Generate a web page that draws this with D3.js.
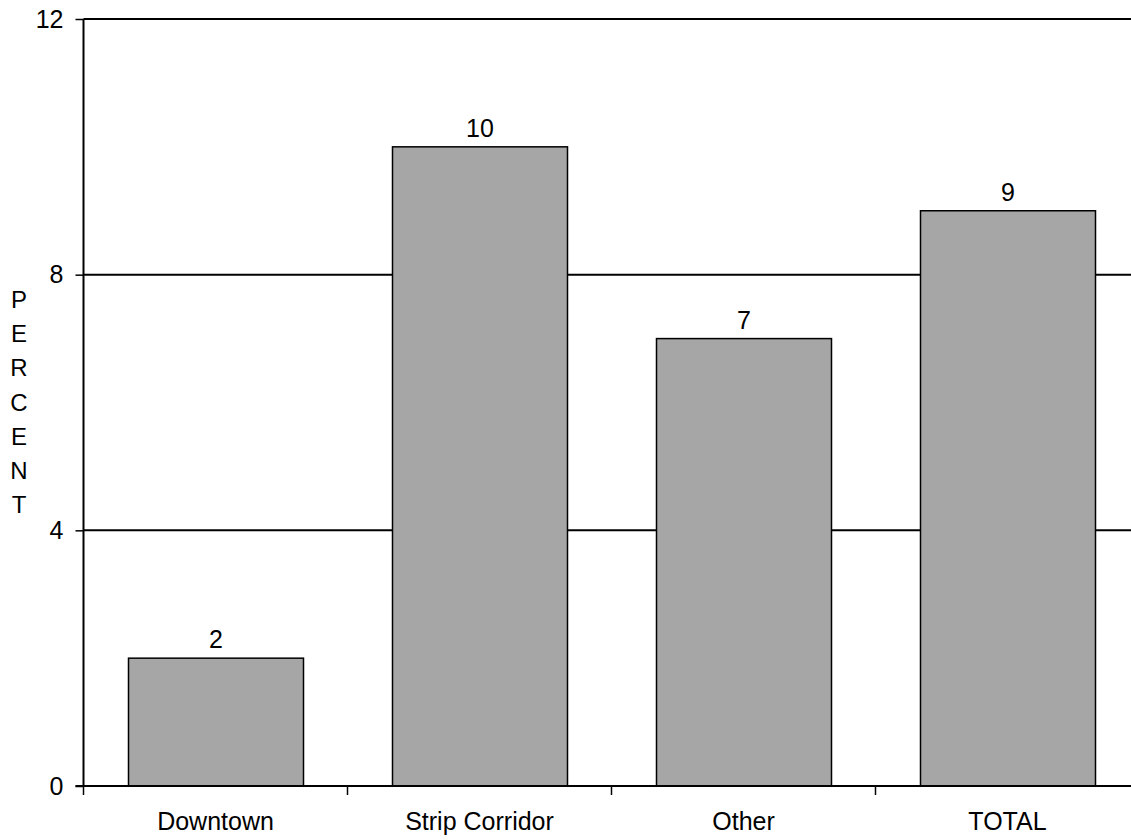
<!DOCTYPE html>
<html>
<head>
<meta charset="utf-8">
<script src="https://cdn.jsdelivr.net/npm/d3@7"></script>
<style>
  html, body { margin: 0; padding: 0; background: #fff; }
  svg text { font-family: "Liberation Sans", Arial, sans-serif; fill: #000; }
</style>
</head>
<body>
<svg id="chart" width="1131" height="840"></svg>
<script>
const categories = ["Downtown", "Strip Corridor", "Other", "TOTAL"];
const values = [2, 10, 7, 9];
const yTicks = [0, 4, 8, 12];
const axisTitle = "PERCENT";

const FONT = 25;
const svg = d3.select("#chart");
const margin = { left: 83.5, top: 19, bottom: 786 };
const plotRight = 83.5 + 4 * 264;

const xBand = d3.scaleBand().domain(categories).range([margin.left, plotRight]);
const y = d3.scaleLinear().domain([0, 12]).range([margin.bottom, margin.top]);

// horizontal gridlines
svg.append("g").selectAll("line").data(yTicks.filter(d => d > 0)).join("line")
  .attr("x1", margin.left).attr("x2", plotRight)
  .attr("y1", d => y(d)).attr("y2", d => y(d))
  .attr("stroke", "#000").attr("stroke-width", 2);

// bars
svg.append("g").selectAll("rect").data(values).join("rect")
  .attr("x", (d, i) => xBand(categories[i]) + 45)
  .attr("width", 175)
  .attr("y", d => y(d))
  .attr("height", d => y(0) - y(d))
  .attr("fill", "#a6a6a6").attr("stroke", "#000").attr("stroke-width", 1.5);

// value labels
svg.append("g").selectAll("text").data(values).join("text")
  .attr("x", (d, i) => xBand(categories[i]) + 45 + 87.5)
  .attr("y", d => y(d) - 10)
  .attr("text-anchor", "middle").style("font-size", FONT + "px")
  .text(d => d);

// y axis
const yAxis = d3.axisLeft(y).tickValues(yTicks).tickSize(8).tickPadding(12);
const gy = svg.append("g").attr("transform", `translate(${margin.left},0)`).call(yAxis);
gy.attr("font-size", null);
gy.select(".domain").attr("stroke", "#000").attr("stroke-width", 2).attr("d", `M0,${margin.bottom}V${margin.top}`);
gy.selectAll(".tick line").attr("stroke", "#000").attr("stroke-width", 1.5);
gy.selectAll(".tick text").style("font-size", FONT + "px").attr("fill", "#000");

// x axis
const gx = svg.append("g").attr("transform", `translate(0,${margin.bottom})`);
gx.append("line").attr("x1", margin.left - 8).attr("x2", plotRight)
  .attr("stroke", "#000").attr("stroke-width", 2);
gx.selectAll("line.tick").data(categories).join("line").attr("class", "tick")
  .attr("x1", d => xBand(d)).attr("x2", d => xBand(d))
  .attr("y1", 0).attr("y2", 9).attr("stroke", "#000").attr("stroke-width", 1.5);
gx.selectAll("text").data(categories).join("text")
  .attr("x", d => xBand(d) + xBand.bandwidth() / 2)
  .attr("y", 44).attr("text-anchor", "middle").style("font-size", FONT + "px")
  .text(d => d);

// stacked axis title
svg.append("g").selectAll("text").data(axisTitle.split("")).join("text")
  .attr("x", 19).attr("y", (d, i) => 308 + i * 34.2)
  .attr("text-anchor", "middle").style("font-size", "24px")
  .text(d => d);
</script>
</body>
</html>
